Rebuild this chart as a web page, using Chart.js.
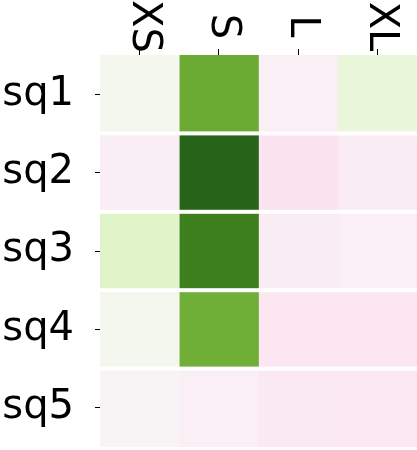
<!DOCTYPE html>
<html>
<head>
<meta charset="utf-8">
<script src="https://cdn.jsdelivr.net/npm/chart.js@4"></script>
<style>
  body { margin: 0; background: #fff; }
  #heat { display: block; }
</style>
</head>
<body>
<canvas id="heat" width="417" height="450"></canvas>
<script>
// rows and columns of the heatmap
const rows = ['sq1', 'sq2', 'sq3', 'sq4', 'sq5'];
const sizes = ['XS', 'S', 'L', 'XL'];

// values per column (top to bottom), colour range -1..1
const xsValues = [0.05, -0.08, 0.22, 0.05, -0.03];
const sValues = [0.68, 1.0, 0.88, 0.66, -0.07];
const lValues = [-0.06, -0.17, -0.10, -0.15, -0.12];
const xlValues = [0.15, -0.10, -0.07, -0.15, -0.13];
const columnValues = [xsValues, sValues, lValues, xlValues];

const vmin = -1;
const vmax = 1;

// PiYG colour stops
const piyg = ['#8e0152', '#c51b7d', '#de77ae', '#f1b6da', '#fde0ef', '#f7f7f7',
              '#e6f5d0', '#b8e186', '#7fbc41', '#4d9221', '#276419'];

function hexToRgb(h) {
    return [parseInt(h.substr(1, 2), 16), parseInt(h.substr(3, 2), 16), parseInt(h.substr(5, 2), 16)];
}

function colourFor(v) {
    let t = (v - vmin) / (vmax - vmin);
    t = Math.max(0, Math.min(1, t));
    const pos = t * (piyg.length - 1);
    const i = Math.min(Math.floor(pos), piyg.length - 2);
    const f = pos - i;
    const a = hexToRgb(piyg[i]);
    const b = hexToRgb(piyg[i + 1]);
    const c = a.map((x, k) => Math.round(x + (b[k] - x) * f));
    return `rgb(${c[0]}, ${c[1]}, ${c[2]})`;
}

const font = "'DejaVu Sans', sans-serif";

// white gaps between rows, column labels drawn rotated on top
const extras = {
    id: 'extras',
    afterDatasetsDraw(chart) {
        const ctx = chart.ctx;
        const y = chart.scales.y;
        const area = chart.chartArea;
        ctx.save();
        ctx.fillStyle = '#fff';
        for (let i = 0; i < rows.length - 1; i++) {
            const mid = (y.getPixelForValue(i) + y.getPixelForValue(i + 1)) / 2;
            ctx.fillRect(area.left, mid - 2, area.right - area.left, 4);
        }
        ctx.restore();
    },
    afterDraw(chart) {
        const ctx = chart.ctx;
        const x = chart.scales.x;
        ctx.save();
        ctx.fillStyle = '#000';
        ctx.font = `40px ${font}`;
        ctx.textAlign = 'center';
        ctx.textBaseline = 'alphabetic';
        sizes.forEach((label, i) => {
            const px = x.getPixelForValue(i + 0.5);
            ctx.save();
            ctx.translate(px - 7, 26.5);
            ctx.rotate(Math.PI / 2);
            ctx.fillText(label, 0, 0);
            ctx.restore();
        });
        ctx.restore();
    }
};

const datasets = sizes.map((size, i) => ({
    label: size,
    data: rows.map(() => 1),
    backgroundColor: columnValues[i].map(colourFor),
    borderWidth: 0,
    barPercentage: 1,
    categoryPercentage: 1
}));

new Chart(document.getElementById('heat').getContext('2d'), {
    type: 'bar',
    data: { labels: rows, datasets },
    options: {
        indexAxis: 'y',
        responsive: false,
        animation: false,
        devicePixelRatio: 1,
        layout: { padding: { top: 0, right: 0, bottom: 3, left: 0 } },
        plugins: {
            legend: { display: false },
            tooltip: { enabled: false }
        },
        scales: {
            x: {
                type: 'linear',
                position: 'top',
                stacked: true,
                min: 0,
                max: sizes.length,
                afterBuildTicks: scale => {
                    scale.ticks = sizes.map((s, i) => ({ value: i + 0.5 }));
                },
                afterFit: scale => {
                    scale.height = 55;
                    scale.paddingLeft = 0;
                    scale.paddingRight = 0;
                },
                ticks: { display: false },
                grid: { drawOnChartArea: false, drawTicks: true, tickLength: 6, color: '#000', lineWidth: 1 },
                border: { display: false }
            },
            y: {
                type: 'category',
                stacked: true,
                afterFit: scale => {
                    scale.width = 100;
                    scale.paddingTop = 0;
                    scale.paddingBottom = 0;
                },
                ticks: { color: '#000', padding: 21, font: { family: font, size: 40 } },
                grid: { offset: false, drawOnChartArea: false, drawTicks: true, tickLength: 5, color: '#000', lineWidth: 1 },
                border: { display: false }
            }
        }
    },
    plugins: [extras]
});
</script>
</body>
</html>
